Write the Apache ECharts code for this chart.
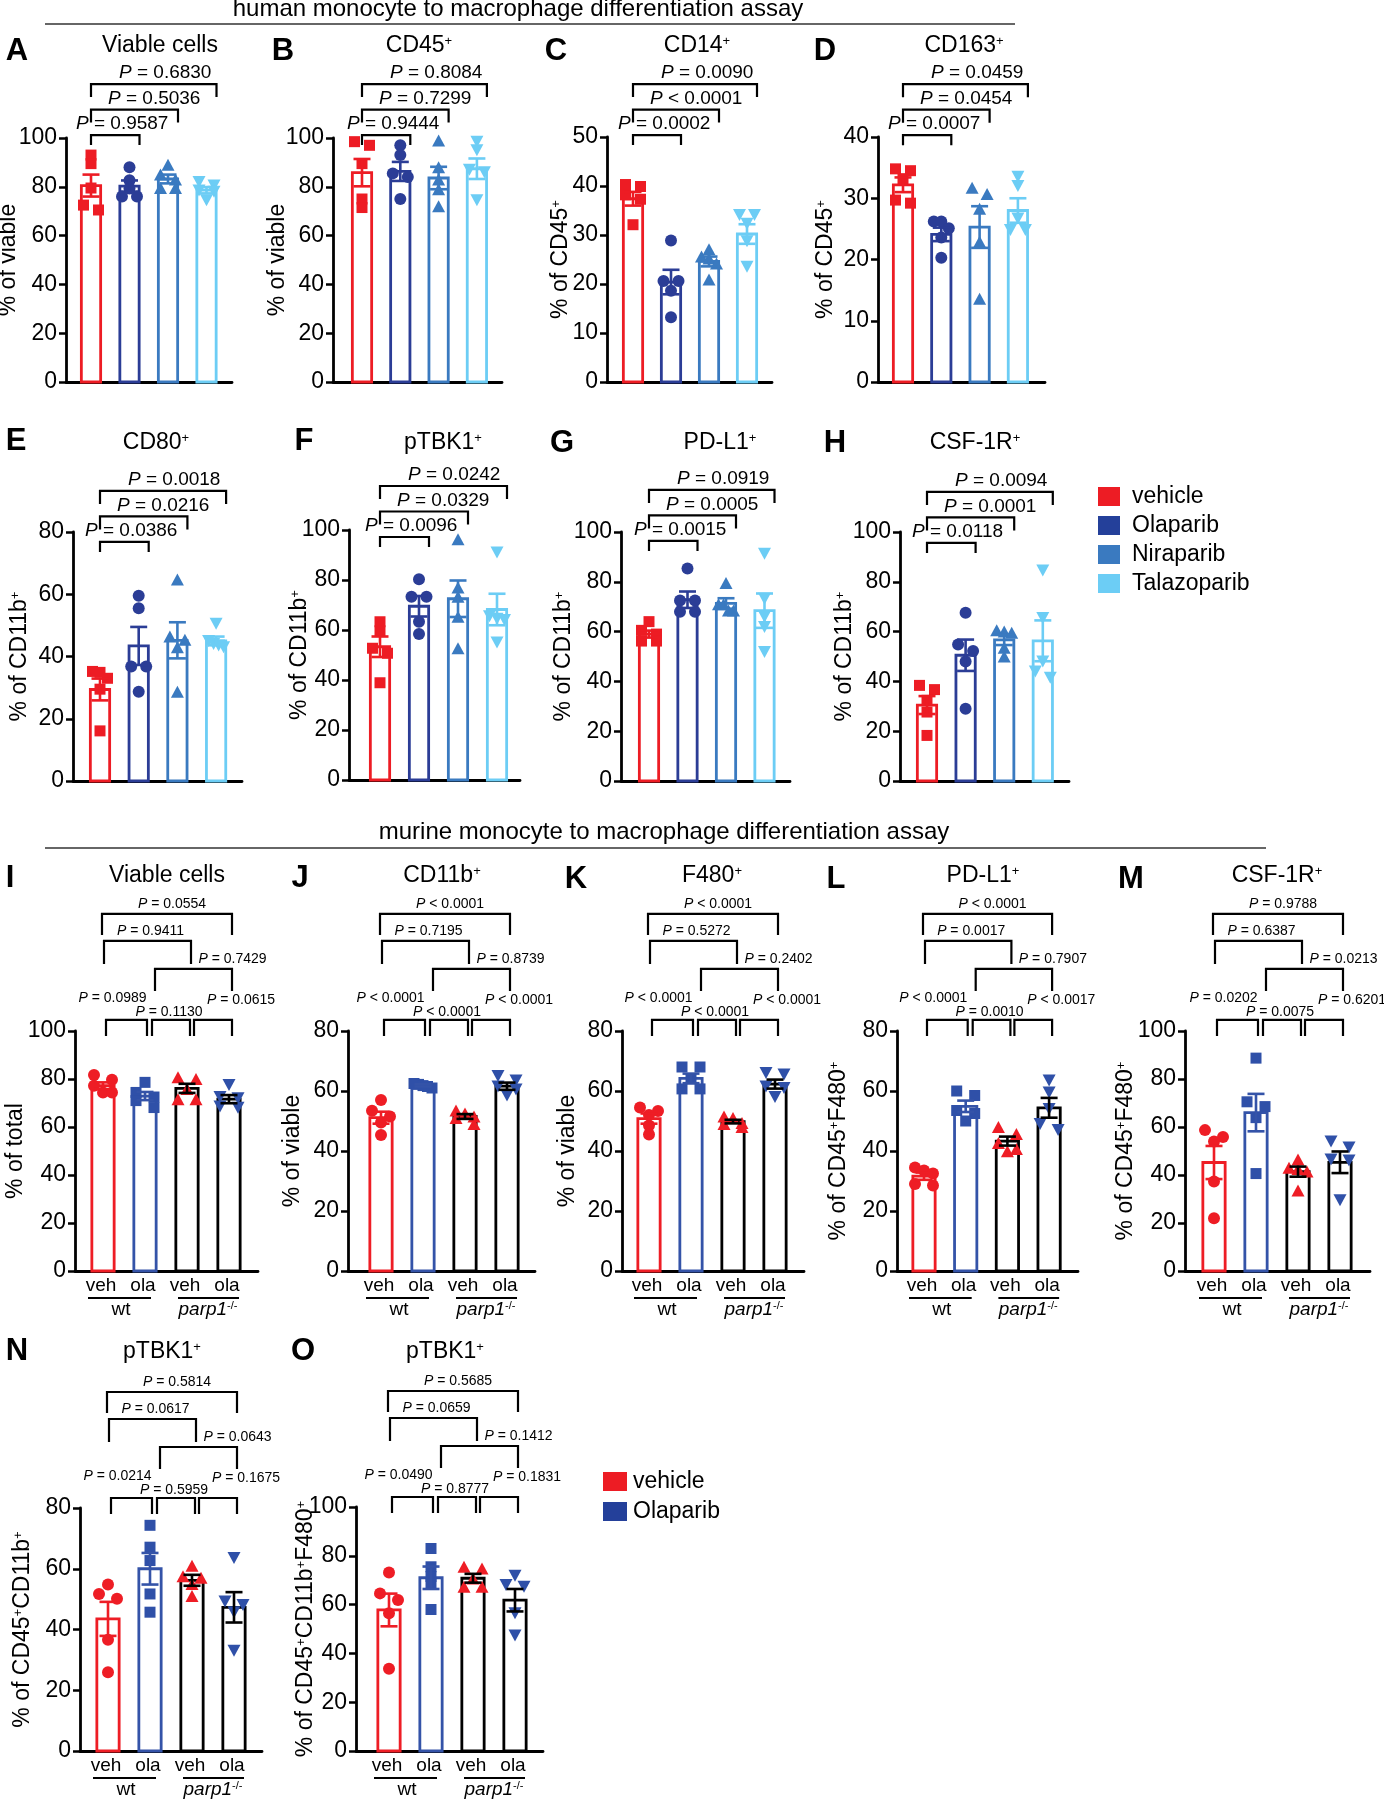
<!DOCTYPE html>
<html><head><meta charset="utf-8">
<script src="https://cdn.jsdelivr.net/npm/echarts@6.0.0/dist/echarts.min.js"></script>
<style>html,body{margin:0;padding:0;background:#fff}#chart{width:1384px;height:1800px}</style>
</head><body><div id="chart"></div>
<script>
const FONT = "'Liberation Sans', Arial, Helvetica, sans-serif";

// ---------------- categories & texts ----------------
const humanGroups = ['vehicle', 'Olaparib', 'Niraparib', 'Talazoparib'];
const murineTreatments = ['veh', 'ola', 'veh', 'ola'];
const murineGenotypes = ['wt', 'parp1-/-'];
const murineLegendNames = ['vehicle', 'Olaparib'];
const humanHeader = 'human monocyte to macrophage differentiation assay';
const murineHeader = 'murine monocyte to macrophage differentiation assay';
const panelLetters = ['A','B','C','D','E','F','G','H','I','J','K','L','M','N','O'];
const panelTitles = ['Viable cells','CD45+','CD14+','CD163+','CD80+','pTBK1+','PD-L1+','CSF-1R+',
  'Viable cells','CD11b+','F480+','PD-L1+','CSF-1R+','pTBK1+','pTBK1+'];
const panelYNames = ['% of viable','% of viable','% of CD45+','% of CD45+','% of CD11b+','% of CD11b+','% of CD11b+','% of CD11b+',
  '% of total','% of viable','% of viable','% of CD45+F480+','% of CD45+F480+','% of CD45+CD11b+','% of CD45+CD11b+F480+'];

// ---------------- data ----------------
const A_ticks = [0,20,40,60,80,100];
const A_points = [[93,89.5,79.5,72.5,70.5],[88,82.7,79.3,76,76],[89,85,83,79.5,79.5],[82,80.5,78.5,78,74.5]];
const A_mean = [80.5,80.3,83.2,78.6];
const A_sem = [4.5,2.3,1.8,1.3];
const A_pvals = ['P = 0.9587','P = 0.5036','P = 0.6830'];

const B_ticks = [0,20,40,60,80,100];
const B_points = [[98.5,97,89.5,75,71.5],[97,93,85.5,84,75],[99,88,83,79,72],[98.5,95,87,86,74.5]];
const B_mean = [85.8,86.3,83.6,87.4];
const B_sem = [5.6,3.9,4.6,4.2];
const B_pvals = ['P = 0.9444','P = 0.7299','P = 0.8084'];

const C_ticks = [0,10,20,30,40,50];
const C_points = [[40.3,39.9,38.2,37.3,32.1],[28.9,20.6,20.6,18.6,13.2],[27.1,25.6,25.2,24.2,20.9],[34.1,34.1,32.3,28.7,23.5]];
const C_mean = [37.4,20.4,24.6,30.2];
const C_sem = [1.4,2.5,1.0,2.0];
const C_pvals = ['P = 0.0002','P < 0.0001','P = 0.0090'];

const D_ticks = [0,10,20,30,40];
const D_points = [[34.8,34.5,33.2,29.7,29.2],[26.2,26.2,25.1,23.6,20.3],[31.7,30.7,28.3,22.9,13.6],[33.5,32,26.7,24.8,24.8]];
const D_mean = [32.2,24.1,25.3,28];
const D_sem = [1.2,1.1,3.4,2.0];
const D_pvals = ['P = 0.0007','P = 0.0454','P = 0.0459'];

const E_ticks = [0,20,40,60,80];
const E_points = [[35.2,34.9,33,29.5,16.1],[59.5,55.5,36.8,36.8,28.7],[64.7,46.4,45.4,43,28.7],[50.5,45,44,43.5,43]];
const E_mean = [29.4,43.4,45.2,45];
const E_sem = [3.5,6.1,5.8,1.4];
const E_pvals = ['P = 0.0386','P = 0.0216','P = 0.0018'];

const F_ticks = [0,20,40,60,80,100];
const F_points = [[63.3,59.7,52.7,50.7,38.9],[80.3,73.3,73.3,63.3,58.4],[96.3,77,73.3,65.3,52.7],[91,65.5,64.5,64,55]];
const F_mean = [53.3,69.5,72.5,68.2];
const F_sem = [4.1,4.1,7.3,6.3];
const F_pvals = ['P = 0.0096','P = 0.0329','P = 0.0242'];

const G_ticks = [0,20,40,60,80,100];
const G_points = [[64,60.5,59,56.2,56.2],[85.3,72.5,72.5,68,68],[79.5,71,71,68.5,68.5],[91.3,73.2,66,61.8,51.8]];
const G_mean = [59,72.8,71.3,68.4];
const G_sem = [1.4,3.3,2.1,6.9];
const G_pvals = ['P = 0.0015','P = 0.0005','P = 0.0919'];

const H_ticks = [0,20,40,60,80,100];
const H_points = [[38.4,36.7,32.4,27.7,18.3],[67.6,54.8,52.2,48,29],[60.5,60,59.5,53.5,50],[84.5,65.5,48,44,41.5]];
const H_mean = [30.5,50.5,56.7,56.3];
const H_sem = [3.6,6.3,2.1,8.2];
const H_pvals = ['P = 0.0118','P = 0.0001','P = 0.0094'];

// murine: order = wt veh, wt ola, parp1-/- veh, parp1-/- ola
// p-values order: wt veh-ola, wt ola-parp veh, parp veh-ola, wt ola-parp ola, wt veh-parp veh, wt veh-parp ola
const I_ticks = [0,20,40,60,80,100];
const I_points = [[81.7,79.7,77.2,74.4,74.4],[78.6,74.4,72.5,71,68.1],[80.7,80,75.8,71.6,71.6],[77.5,72.5,72,68.5,68]];
const I_mean = [77.2,72.9,76.1,71.6];
const I_sem = [1.4,1.7,1.9,1.7];
const I_pvals = ['P = 0.0989','P = 0.1130','P = 0.0615','P = 0.7429','P = 0.9411','P = 0.0554'];

const J_ticks = [0,20,40,60,80];
const J_points = [[57,53.4,51.5,49.5,45.3],[62.5,62.2,61.8,61.5,61],[53.5,52.5,51.5,51,49],[65,63.5,61.5,60.5,58.5]];
const J_mean = [51.1,61.9,51.5,61.6];
const J_sem = [2.0,0.4,0.8,1.2];
const J_pvals = ['P < 0.0001','P < 0.0001','P < 0.0001','P = 0.8739','P = 0.7195','P < 0.0001'];

const K_ticks = [0,20,40,60,80];
const K_points = [[54.5,53.3,52,48.5,45.5],[68,68,64,60.7,60.7],[51.5,51,49.3,49,48],[66,65.5,61.5,61,58]];
const K_mean = [50.8,64.2,49.8,62.3];
const K_sem = [1.7,1.6,0.6,1.5];
const K_pvals = ['P < 0.0001','P < 0.0001','P < 0.0001','P = 0.2402','P = 0.5272','P < 0.0001'];

const L_ticks = [0,20,40,60,80];
const L_points = [[34.5,33.5,32.5,29,28.5],[60,58.5,53.5,52.5,50],[48,45.7,42.7,40.7,39.9],[63.5,59.5,54,49,47]];
const L_mean = [31.6,54.9,43.3,54.4];
const L_sem = [1.2,1.9,1.5,3.3];
const L_pvals = ['P < 0.0001','P = 0.0010','P < 0.0017','P = 0.7907','P = 0.0017','P < 0.0001'];

const M_ticks = [0,20,40,60,80,100];
const M_points = [[58.7,55.8,54,37.3,22],[88.7,70.5,68.5,63.9,40.6],[46.5,43,42.5,41.5,33.5],[54,51.5,46.5,46,29.5]];
const M_mean = [45.2,66,41.4,45.3];
const M_sem = [6.9,7.8,2.1,4.5];
const M_pvals = ['P = 0.0202','P = 0.0075','P = 0.6201','P = 0.0213','P = 0.6387','P = 0.9788'];

const N_ticks = [0,20,40,60,80];
const N_points = [[54.8,51.7,50.1,36.6,25.9],[74.3,67.1,62.7,51.7,45.7],[61,57.5,57,55,51],[63.5,49.2,48.1,45.7,33]];
const N_mean = [43.5,60,56.2,47.3];
const N_sem = [5.6,5.2,1.8,5.0];
const N_pvals = ['P = 0.0214','P = 0.5959','P = 0.1675','P = 0.0643','P = 0.0617','P = 0.5814'];

const O_ticks = [0,20,40,60,80,100];
const O_points = [[73.2,64.6,61.9,56.5,33.7],[83,75.5,71.5,68.5,58],[75.5,74.8,70.7,67.3,67.3],[71.8,68,67.3,56.5,47.3]];
const O_mean = [57.8,71,70.8,61.8];
const O_sem = [6.7,4.6,1.8,4.6];
const O_pvals = ['P = 0.0490','P = 0.8777','P = 0.1831','P = 0.1412','P = 0.0659','P = 0.5685'];

const PANELS = [
  {key:'A', kind:'human', points:A_points, mean:A_mean, sem:A_sem, p:A_pvals, ticks:A_ticks, bracketBase:101.2},
  {key:'B', kind:'human', points:B_points, mean:B_mean, sem:B_sem, p:B_pvals, ticks:B_ticks, bracketBase:101.2},
  {key:'C', kind:'human', points:C_points, mean:C_mean, sem:C_sem, p:C_pvals, ticks:C_ticks, bracketBase:50.4},
  {key:'D', kind:'human', points:D_points, mean:D_mean, sem:D_sem, p:D_pvals, ticks:D_ticks, bracketBase:40.3},
  {key:'E', kind:'human', points:E_points, mean:E_mean, sem:E_sem, p:E_pvals, ticks:E_ticks, bracketBase:76.8},
  {key:'F', kind:'human', points:F_points, mean:F_mean, sem:F_sem, p:F_pvals, ticks:F_ticks, bracketBase:97.2},
  {key:'G', kind:'human', points:G_points, mean:G_mean, sem:G_sem, p:G_pvals, ticks:G_ticks, bracketBase:96.4},
  {key:'H', kind:'human', points:H_points, mean:H_mean, sem:H_sem, p:H_pvals, ticks:H_ticks, bracketBase:95.6},
  {key:'I', kind:'murine', points:I_points, mean:I_mean, sem:I_sem, p:I_pvals, ticks:I_ticks, bracketBase:104.6},
  {key:'J', kind:'murine', points:J_points, mean:J_mean, sem:J_sem, p:J_pvals, ticks:J_ticks, bracketBase:83.7},
  {key:'K', kind:'murine', points:K_points, mean:K_mean, sem:K_sem, p:K_pvals, ticks:K_ticks, bracketBase:83.7},
  {key:'L', kind:'murine', points:L_points, mean:L_mean, sem:L_sem, p:L_pvals, ticks:L_ticks, bracketBase:83.7},
  {key:'M', kind:'murine', points:M_points, mean:M_mean, sem:M_sem, p:M_pvals, ticks:M_ticks, bracketBase:104.6},
  {key:'N', kind:'murine', points:N_points, mean:N_mean, sem:N_sem, p:N_pvals, ticks:N_ticks, bracketBase:83.3},
  {key:'O', kind:'murine', points:O_points, mean:O_mean, sem:O_sem, p:O_pvals, ticks:O_ticks, bracketBase:104.1}
];

// ---------------- layout (pixels) ----------------
const LAYOUT = {
  A:{axisX:66, bar0:91, sp:38.5, endX:232, top:138, bottom:382, nameCx:9, letter:[17,51.5], title:[160,46]},
  B:{axisX:333, bar0:362, sp:38.3, endX:502, top:138, bottom:382, nameCx:278, letter:[283,51.5], title:[419,46]},
  C:{axisX:607, bar0:633, sp:38, endX:772, top:137, bottom:382, nameCx:561, letter:[556,51.5], title:[697,46]},
  D:{axisX:878, bar0:903, sp:38.3, endX:1045, top:137, bottom:382, nameCx:826, letter:[825,51.5], title:[964,46]},
  E:{axisX:73, bar0:100, sp:38.7, endX:242, top:532, bottom:781, nameCx:20, letter:[16,441], title:[156,443]},
  F:{axisX:349, bar0:380, sp:39, endX:520, top:530, bottom:780, nameCx:300, letter:[304,441], title:[443,443]},
  G:{axisX:621, bar0:649, sp:38.5, endX:790, top:532, bottom:781, nameCx:564, letter:[562,443], title:[720,443]},
  H:{axisX:900, bar0:927, sp:38.6, endX:1069, top:532, bottom:781, nameCx:845, letter:[835,443], title:[975,443]},
  I:{axisX:75, bar0:103, sp:42, endX:258, top:1031, bottom:1271, nameCx:16, letter:[10,878], title:[167,876]},
  J:{axisX:348, bar0:381, sp:42, endX:535, top:1031, bottom:1271, nameCx:293, letter:[300,878], title:[442,876]},
  K:{axisX:622, bar0:649, sp:42, endX:804, top:1031, bottom:1271, nameCx:568, letter:[576,879], title:[712,876]},
  L:{axisX:897, bar0:924, sp:41.7, endX:1078, top:1031, bottom:1271, nameCx:839, letter:[836,879], title:[983,876]},
  M:{axisX:1185, bar0:1214, sp:42, endX:1370, top:1031, bottom:1271, nameCx:1126, letter:[1131,879], title:[1277,876]},
  N:{axisX:80, bar0:108, sp:42, endX:262, top:1508, bottom:1751, nameCx:23, letter:[17,1351], title:[162,1352]},
  O:{axisX:356, bar0:389, sp:42, endX:543, top:1507, bottom:1751, nameCx:306, letter:[303,1351], title:[445,1352]}
};

// ---------------- styles ----------------
const HUMAN_COLORS = ['#ED1C24', '#2B3D96', '#3A7AC0', '#6CCDF5'];
const HUMAN_SYMBOLS = [{s:'rect', size:11, rot:0}, {s:'circle', size:12, rot:0}, {s:'triangle', size:[13,12], rot:0}, {s:'triangle', size:[13,12], rot:180}];
const MURINE_BAR_COLORS = ['#EE1D25', '#3453A8', '#000000', '#000000'];
const MURINE_PT_COLORS = ['#EE1D25', '#2F50A8', '#EE1D25', '#2F50A8'];
const MURINE_SYMBOLS = [{s:'circle', size:12, rot:0}, {s:'rect', size:11, rot:0}, {s:'triangle', size:[13,12], rot:0}, {s:'triangle', size:[13,12], rot:180}];
const LEGEND_COLORS = {vehicle:'#ED1C24', Olaparib:'#24409A', Niraparib:'#3A7AC0', Talazoparib:'#6CCDF5'};

const HB = {legs:[10,13,13], lift:25.5, rightDx:10, textDx:[-15,17,28], textDy:-11, fs:19};
const MB = [
  {a:0, b:1, lift:0,   dl:3,  dr:2, leg:16, tdx:-14, tdy:-22},
  {a:1, b:2, lift:0,   dl:7,  dr:3, leg:16, tdx:-2,  tdy:-8},
  {a:2, b:3, lift:0,   dl:7,  dr:3, leg:16, tdx:28,  tdy:-20},
  {a:1, b:3, lift:51,  dl:10, dr:3, leg:22, tdx:39,  tdy:-10},
  {a:0, b:2, lift:79,  dl:1,  dr:4, leg:23, tdx:3,   tdy:-10},
  {a:0, b:3, lift:106, dl:-1, dr:3, leg:21, tdx:5,   tdy:-10}
];

function supify(s) { return s.replace(/\+/g, '{sup|+}'); }
function richFor(fs) {
  return {
    sup: {fontSize: Math.round(fs * 0.56), fontFamily: FONT, fill: '#000', verticalAlign: 'top'},
    i: {fontSize: fs, fontFamily: FONT, fontStyle: 'italic', fill: '#000'}
  };
}
function textStyle(text, fs, align, extra) {
  return Object.assign({
    text: text, fontSize: fs, fontFamily: FONT, fill: '#000',
    align: align || 'center', verticalAlign: 'middle', rich: richFor(fs)
  }, extra || {});
}
function pText(s) { return s.replace(/^P/, '{i|P}'); }
function genoText(s) {
  const m = s.match(/^(.*?)(-\/-)$/);
  return m ? '{i|' + m[1] + '}{sup|' + m[2] + '}' : s;
}
// GraphPad-like horizontal spread of overlapping points (pixel based)
function swarm(values, pxPerUnit, half, thr) {
  const idx = values.map((v, i) => i).sort((a, b) => values[b] - values[a]);
  const off = values.map(() => 0);
  let k = 0;
  while (k < idx.length) {
    const row = [idx[k]];
    let j = k + 1;
    while (j < idx.length && (values[idx[k]] - values[idx[j]]) * pxPerUnit < thr) { row.push(idx[j]); j++; }
    if (row.length > 1) row.forEach((id, n) => { off[id] = -half + 2 * half * n / (row.length - 1); });
    k = j;
  }
  return off;
}

const option = {
  animation: false, backgroundColor: '#ffffff',
  textStyle: {fontFamily: FONT},
  grid: [], xAxis: [], yAxis: [], series: [], graphic: [], legend: []
};

PANELS.forEach((P, pi) => {
  const Lo = LAYOUT[P.key];
  const human = P.kind === 'human';
  const ymax = P.ticks[P.ticks.length - 1];
  const step = P.ticks[1] - P.ticks[0];
  const xmin = -(Lo.bar0 - Lo.axisX) / Lo.sp;
  const xmax = xmin + (Lo.endX - Lo.axisX) / Lo.sp;
  const pxPerUnit = (Lo.bottom - Lo.top) / ymax;

  option.grid.push({left: Lo.axisX, top: Lo.top, width: Lo.endX - Lo.axisX, height: Lo.bottom - Lo.top,
    containLabel: false, outerBoundsMode: 'none', show: false});
  option.xAxis.push({type: 'value', gridIndex: pi, min: xmin, max: xmax,
    axisLine: {show: true, onZero: false, lineStyle: {color: '#000', width: 2.8}},
    axisTick: {show: false}, axisLabel: {show: false}, splitLine: {show: false}});
  option.yAxis.push({type: 'value', gridIndex: pi, min: 0, max: ymax, interval: step,
    axisLine: {show: true, onZero: false, lineStyle: {color: '#000', width: 2.8}},
    axisTick: {show: true, length: 7, lineStyle: {color: '#000', width: 2.5}},
    axisLabel: {color: '#000', fontSize: 23, fontFamily: FONT, margin: 9,
      formatter: v => (P.ticks.indexOf(v) >= 0 ? String(v) : '')},
    splitLine: {show: false},
    name: supify(panelYNames[pi]), nameLocation: 'middle', nameRotate: 90, nameMoveOverlap: false,
    nameGap: Lo.axisX - Lo.nameCx - 11.5,
    nameTextStyle: {color: '#000', fontSize: 23, fontFamily: FONT,
      rich: {sup: {fontSize: 13, fontFamily: FONT, color: '#000', verticalAlign: 'top'}}}});

  const barColors = human ? HUMAN_COLORS : MURINE_BAR_COLORS;
  const ptColors = human ? HUMAN_COLORS : MURINE_PT_COLORS;
  const symbols = human ? HUMAN_SYMBOLS : MURINE_SYMBOLS;
  const barW = human ? 19.3 : 22.3;

  // bars (mean)
  option.series.push({type: 'custom', name: 'bars-' + P.key, xAxisIndex: pi, yAxisIndex: pi, z: 2, silent: true, clip: false,
    data: P.mean.map((m, i) => [i, m]),
    renderItem: (params, api) => {
      const i = api.value(0), m = api.value(1);
      const t = api.coord([i, m]), b = api.coord([i, 0]);
      return {type: 'rect', shape: {x: t[0] - barW / 2, y: t[1], width: barW, height: b[1] - t[1]},
        style: {fill: 'none', stroke: barColors[i], lineWidth: 2.8}};
    }});

  // individual points
  P.points.forEach((vals, g) => {
    const off = swarm(vals, pxPerUnit, human ? 7.5 : 9, 7);
    const sym = symbols[g];
    option.series.push({type: 'scatter', name: human ? humanGroups[g] : murineLegendNames[g % 2],
      xAxisIndex: pi, yAxisIndex: pi, z: 3, silent: true, clip: false,
      symbol: sym.s, symbolSize: sym.size, symbolRotate: sym.rot,
      itemStyle: {color: ptColors[g], opacity: 1},
      data: vals.map((v, n) => [g + off[n] / Lo.sp, v])});
  });

  // error bars (SEM)
  option.series.push({type: 'custom', name: 'sem-' + P.key, xAxisIndex: pi, yAxisIndex: pi, z: 4, silent: true, clip: false,
    data: P.mean.map((m, i) => [i, m, P.sem[i]]),
    renderItem: (params, api) => {
      const i = api.value(0), m = api.value(1), s = api.value(2);
      const hi = api.coord([i, m + s]), lo = api.coord([i, m - s]);
      const hw = 8.5, st = {stroke: barColors[i], lineWidth: 2.6};
      return {type: 'group', children: [
        {type: 'line', shape: {x1: hi[0], y1: hi[1], x2: lo[0], y2: lo[1]}, style: st},
        {type: 'line', shape: {x1: hi[0] - hw, y1: hi[1], x2: hi[0] + hw, y2: hi[1]}, style: st},
        {type: 'line', shape: {x1: lo[0] - hw, y1: lo[1], x2: lo[0] + hw, y2: lo[1]}, style: st}
      ]};
    }});

  // significance brackets
  if (human) {
    option.series.push({type: 'custom', name: 'brackets-' + P.key, xAxisIndex: pi, yAxisIndex: pi, z: 5, silent: true, clip: false,
      data: P.p.map((s, k) => [k + 1, P.bracketBase]),
      renderItem: (params, api) => {
        const k = params.dataIndex, to = api.value(0);
        const y0 = api.coord([0, P.bracketBase])[1] - k * HB.lift;
        const xl = api.coord([0, 0])[0], xr = api.coord([to, 0])[0] + HB.rightDx;
        const leg = HB.legs[k];
        return {type: 'group', children: [
          {type: 'polyline', shape: {points: [[xl, y0 + leg], [xl, y0], [xr, y0], [xr, y0 + leg]]},
            style: {stroke: '#000', lineWidth: 2.2, fill: 'none'}},
          {type: 'text', x: xl + HB.textDx[k], y: y0 + HB.textDy, style: textStyle(pText(P.p[k]), HB.fs, 'left')}
        ]};
      }});
  } else {
    option.series.push({type: 'custom', name: 'brackets-' + P.key, xAxisIndex: pi, yAxisIndex: pi, z: 5, silent: true, clip: false,
      data: MB.map(b => [b.a, P.bracketBase]),
      renderItem: (params, api) => {
        const k = params.dataIndex, b = MB[k];
        const y0 = api.coord([0, P.bracketBase])[1] - b.lift;
        const xl = api.coord([b.a, 0])[0] + b.dl, xr = api.coord([b.b, 0])[0] + b.dr;
        return {type: 'group', children: [
          {type: 'polyline', shape: {points: [[xl, y0 + b.leg], [xl, y0], [xr, y0], [xr, y0 + b.leg]]},
            style: {stroke: '#000', lineWidth: 2.2, fill: 'none'}},
          {type: 'text', x: (xl + xr) / 2 + b.tdx, y: y0 + b.tdy, style: textStyle(pText(P.p[k]), 14, 'center')}
        ]};
      }});
    // treatment labels under the axis
    option.series.push({type: 'custom', name: 'xlabels-' + P.key, xAxisIndex: pi, yAxisIndex: pi, z: 5, silent: true, clip: false,
      data: murineTreatments.map((t, i) => [i, 0]),
      renderItem: (params, api) => {
        const c = api.coord([api.value(0), 0]);
        return {type: 'text', x: c[0] - 2, y: c[1] + 15, style: textStyle(murineTreatments[params.dataIndex], 19, 'center')};
      }});
    // genotype labels with underline
    option.series.push({type: 'custom', name: 'geno-' + P.key, xAxisIndex: pi, yAxisIndex: pi, z: 5, silent: true, clip: false,
      data: murineGenotypes.map((g, k) => [k * 2, 0]),
      renderItem: (params, api) => {
        const k = params.dataIndex, a = api.value(0);
        const ca = api.coord([a, 0]), cb = api.coord([a + 1, 0]);
        const dl = k === 0 ? -15 : -9, dr = k === 0 ? 6 : 10;
        const mid = (ca[0] + cb[0]) / 2 + (k === 0 ? -3 : 0);
        return {type: 'group', children: [
          {type: 'line', shape: {x1: ca[0] + dl, y1: ca[1] + 27, x2: cb[0] + dr, y2: ca[1] + 27}, style: {stroke: '#000', lineWidth: 2}},
          {type: 'text', x: mid, y: ca[1] + 39, style: textStyle(genoText(murineGenotypes[k]), 19, 'center')}
        ]};
      }});
  }

  // panel letter and title
  option.graphic.push({type: 'text', x: Lo.letter[0], y: Lo.letter[1], silent: true,
    style: textStyle(panelLetters[pi], 31, 'center', {fontWeight: 'bold'})});
  option.graphic.push({type: 'text', x: Lo.title[0], y: Lo.title[1], silent: true,
    style: textStyle(supify(panelTitles[pi]), 23, 'center')});
});

// section headers
option.graphic.push({type: 'text', x: 518, y: 9.5, silent: true, style: textStyle(humanHeader, 24, 'center')});
option.graphic.push({type: 'line', silent: true, shape: {x1: 45, y1: 24, x2: 1015, y2: 24}, style: {stroke: '#333', lineWidth: 1.5}});
option.graphic.push({type: 'text', x: 664, y: 832.5, silent: true, style: textStyle(murineHeader, 24, 'center')});
option.graphic.push({type: 'line', silent: true, shape: {x1: 45, y1: 848, x2: 1266, y2: 848}, style: {stroke: '#333', lineWidth: 1.5}});

// legends
option.legend.push({orient: 'vertical', left: 1098, top: 485, padding: 0, itemGap: 6, itemWidth: 22, itemHeight: 19,
  icon: 'rect', selectedMode: false,
  textStyle: {fontSize: 23, fontFamily: FONT, color: '#000', padding: [0, 0, 0, 7]},
  data: humanGroups.map(n => ({name: n, icon: 'rect', itemStyle: {color: LEGEND_COLORS[n], borderWidth: 0}}))});
option.legend.push({orient: 'vertical', left: 603, top: 1470, padding: 0, itemGap: 7, itemWidth: 24, itemHeight: 19,
  icon: 'rect', selectedMode: false,
  textStyle: {fontSize: 23, fontFamily: FONT, color: '#000', padding: [0, 0, 0, 1]},
  data: murineLegendNames.map(n => ({name: n, icon: 'rect', itemStyle: {color: LEGEND_COLORS[n], borderWidth: 0}}))});

const chart = echarts.init(document.getElementById('chart'), null, {renderer: 'canvas', width: 1384, height: 1800});
chart.setOption(option);
</script></body></html>
